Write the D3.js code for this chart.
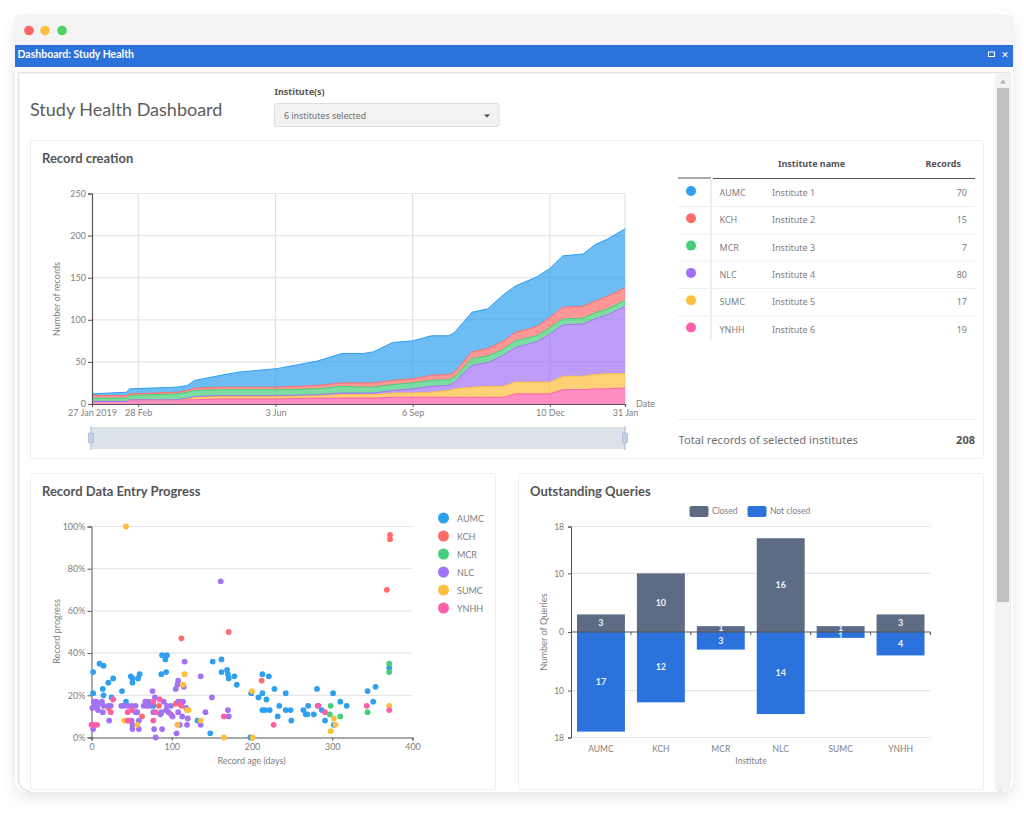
<!DOCTYPE html>
<html>
<head>
<meta charset="utf-8">
<title>Study Health Dashboard</title>
<script src="https://cdn.jsdelivr.net/npm/d3@7"></script>
<style>
    html, body { margin: 0; padding: 0; background: #fff; }
    svg { display: block; font-family: Lato, sans-serif; }
    .axis text { fill: #808080; }
    .axis .domain, .axis line { stroke: #555; }
</style>
</head>
<body>
<div id="chart"></div>
<script>
const institutes = ["AUMC", "KCH", "MCR", "NLC", "SUMC", "YNHH"]
const instituteNames = ["Institute 1", "Institute 2", "Institute 3", "Institute 4", "Institute 5", "Institute 6"]
const instituteRecords = [70, 15, 7, 80, 17, 19]
const colors = ["#2f9ff0", "#ff6b6b", "#44cf78", "#a272f6", "#ffbe3d", "#ff5fa8"]

// days since 27 Jan 2019
const recordDays = [0, 24, 26, 59, 66, 71, 89, 102, 128, 156, 173, 188, 195, 208, 222, 235, 247, 251, 263, 274, 285, 293, 308, 317, 326, 340, 348, 357, 369]
const recordsYNHH = [3, 3, 5, 5, 5, 5, 6, 6, 6, 7, 7, 7, 7, 8, 8, 8, 8, 8, 8, 8, 8, 12, 12, 12, 17, 17, 18, 18, 19]
const recordsSUMC = [0, 0, 0, 0, 1, 3, 3, 3, 3, 3, 4, 4, 4, 5, 5, 6, 8, 10, 12, 13, 13, 14, 14, 14, 16, 16, 17, 18, 17]
const recordsNLC = [0, 0, 0, 0, 1, 1, 1, 1, 1, 1, 2, 2, 2, 3, 5, 7, 6, 8, 26, 28, 37, 41, 48, 57, 61, 62, 66, 70, 80]
const recordsMCR = [4, 4, 5, 7, 7, 7, 7, 7, 7, 7, 8, 7, 7, 7, 7, 7, 7, 6, 8, 8, 7, 8, 7, 8, 7, 7, 7, 7, 7]
const recordsKCH = [3, 3, 2, 2, 2, 3, 3, 3, 3, 4, 4, 5, 5, 5, 5, 6, 6, 6, 8, 9, 10, 10, 11, 12, 14, 14, 14, 15, 15]
const recordsAUMC = [2, 4, 6, 6, 6, 9, 14, 18, 22, 29, 35, 35, 37, 45, 45, 47, 46, 47, 47, 47, 55, 55, 59, 58, 61, 62, 67, 68, 70]

const dateTicks = ["2019-01-27", "2019-02-28", "2019-06-03", "2019-09-06", "2019-12-10", "2020-01-31"]
const dateTickLabels = ["27 Jan 2019", "28 Feb", "3 Jun", "6 Sep", "10 Dec", "31 Jan"]
const recordTicks = [0, 50, 100, 150, 200, 250]

// [age in days, progress in %]
const pointsAUMC = [[2, 31], [2, 21], [10, 35], [15, 34], [14, 23], [15, 20], [21, 26], [27, 28], [25, 19], [38, 22], [43, 17], [49, 29], [51, 26], [51, 28], [58, 28], [60, 30], [77, 15], [87, 30], [88, 39], [93, 31], [94, 39], [92, 37], [132, 8], [148, 2], [151, 36], [162, 37], [162, 31], [169, 32], [170, 30], [171, 28], [178, 29], [181, 25], [199, 21], [198, 0], [208, 19], [213, 21], [218, 18], [213, 13], [216, 13], [222, 13], [213, 30], [221, 29], [228, 23], [242, 21], [234, 15], [232, 10], [242, 13], [248, 13], [249, 8], [264, 13], [267, 11], [270, 15], [269, 11], [277, 11], [281, 23], [282, 15], [287, 13], [291, 8], [301, 21], [310, 17], [318, 15], [302, 6], [344, 22], [351, 17], [354, 24], [371, 33]]
const pointsKCH = [[21, 14], [63, 10], [84, 15], [99, 11], [105, 16], [112, 15], [112, 47], [171, 50], [212, 27], [368, 70], [372, 94], [372, 96]]
const pointsMCR = [[297, 11], [298, 15], [310, 10], [344, 12], [371, 31], [371, 35]]
const pointsNLC = [[1, 14], [3, 17], [5, 15], [6, 17], [7, 15], [8, 13], [10, 16], [13, 17], [15, 15], [14, 12], [21, 15], [24, 15], [2, 4], [22, 8], [37, 15], [40, 15], [45, 15], [50, 15], [55, 15], [55, 12], [57, 12], [50, 8], [51, 6], [51, 4], [59, 8], [59, 4], [67, 17], [71, 17], [65, 15], [69, 15], [73, 15], [77, 12], [76, 22], [79, 19], [78, 4], [80, 0], [88, 4], [86, 11], [87, 12], [90, 17], [94, 15], [93, 13], [96, 12], [99, 15], [101, 10], [106, 2], [105, 23], [107, 25], [108, 27], [108, 17], [110, 17], [114, 17], [108, 12], [110, 6], [113, 10], [115, 24], [116, 36], [118, 14], [119, 6], [120, 9], [136, 29], [136, 6], [142, 12], [150, 19], [161, 74], [170, 13], [171, 10]]
const pointsSUMC = [[43, 100], [116, 30], [114, 25], [41, 8], [57, 6], [107, 6], [119, 13], [121, 13], [136, 8], [165, 0], [200, 22], [201, 0], [302, 9], [304, 6], [298, 3], [371, 15]]
const pointsYNHH = [[0, 6], [3, 6], [7, 6], [27, 18], [24, 12], [45, 12], [45, 8], [46, 8], [50, 13], [77, 8], [77, 17], [85, 18], [80, 12], [110, 16], [165, 10], [227, 6], [283, 15], [291, 12], [343, 15], [371, 13]]
const progressTicks = [0, 20, 40, 60, 80, 100]
const ageTicks = [0, 100, 200, 300, 400]

const queriesClosed = [3, 10, 1, 16, 1, 3]
const queriesNotClosed = [17, 12, 3, 14, 1, 4]
const queryTicks = [-18, -10, 0, 10, 18]

const svg = d3.select("#chart").append("svg")
    .attr("width", 1024)
    .attr("height", 815)
    .attr("viewBox", "0 0 1024 815")

const appendText = (parent, text, x, y, {size = 10, color = "#808080", weight = 400, anchor = "start", family} = {}) => {
    const node = parent.append("text")
        .attr("x", x)
        .attr("y", y)
        .attr("font-size", size)
        .attr("font-weight", weight)
        .attr("fill", color)
        .attr("text-anchor", anchor)
        .text(text)
    family && node.style("font-family", family)
    return node
}

const appendRect = (parent, x, y, width, height, fill, stroke) => parent.append("rect")
    .attr("x", x)
    .attr("y", y)
    .attr("width", width)
    .attr("height", height)
    .attr("fill", fill)
    .attr("stroke", stroke || "none")

const appendRotatedLabel = (parent, text, x, y, size) => {
    appendText(parent, text, 0, 0, {size, anchor: "middle"})
        .attr("transform", `translate(${x},${y}) rotate(-90)`)
}

const appendWindow = () => {
    const defs = svg.append("defs")
    const shadow = defs.append("filter").attr("id", "shadow").attr("x", "-5%").attr("y", "-5%").attr("width", "110%").attr("height", "110%")
    shadow.append("feDropShadow").attr("dx", 0).attr("dy", 5).attr("stdDeviation", 7).attr("flood-color", "#000").attr("flood-opacity", 0.1)

    appendRect(svg, 15, 15, 998, 777, "#fff").attr("rx", 12).attr("filter", "url(#shadow)")
    svg.append("path").attr("d", "M15,45V19q0,-4 4,-4H1009q4,0 4,4V45z").attr("fill", "#f4f4f4")
    appendRect(svg, 15, 45, 998, 22, "#2b72dc")

    // inner frame, open at the bottom where it runs into the window edge
    svg.append("path")
        .attr("d", "M30,791.5Q18.5,790 18.5,778V72.5H1010V778Q1010,790 998,791.5")
        .attr("fill", "none")
        .attr("stroke", "#e4e4e4")
        .attr("stroke-width", 1.5)

    const trafficLights = [[29, "#ff6468"], [45, "#ffbf3f"], [62, "#4cd264"]]
    svg.selectAll("circle.light")
        .data(trafficLights)
        .join("circle")
        .attr("class", "light")
        .attr("cx", d => d[0])
        .attr("cy", 30.5)
        .attr("r", 4.8)
        .attr("fill", d => d[1])

    appendText(svg, "Dashboard: Study Health", 17.5, 57.5, {size: 10.5, color: "#fff", weight: 700})
    appendRect(svg, 988.5, 52, 6, 4.5, "none", "#fff")
    appendText(svg, "✕", 1005, 58, {size: 9, color: "#fff", weight: 700, anchor: "middle", family: "DejaVu Sans"})

    appendRect(svg, 995, 73.5, 15, 717, "#f3f3f3")
    appendRect(svg, 997, 88, 12, 514, "#c1c1c1")
    svg.append("path").attr("d", "M1000,83.5h6l-3,-4z").attr("fill", "#b0b0b0")

    appendText(svg, "Study Health Dashboard", 30, 116, {size: 18, color: "#5c5c5c"})
    appendText(svg, "Institute(s)", 274.5, 95, {size: 9, color: "#555", weight: 700, family: "Noto Sans"})
    appendRect(svg, 274.5, 103.5, 224.5, 23, "#f2f2f2", "#dedede").attr("rx", 2)
    appendText(svg, "6 institutes selected", 284, 119, {size: 8.8, color: "#707070", family: "Noto Sans"})
    svg.append("path").attr("d", "M484,114.5h6l-3,3z").attr("fill", "#444")

    const cards = [[30, 140, 953, 318], [30, 473, 465, 316], [518, 473, 465, 316]]
    cards.forEach(([x, y, w, h]) => appendRect(svg, x + 0.5, y + 0.5, w, h, "#fff", "#efefef").attr("rx", 2))

    appendText(svg, "Record creation", 42, 163, {size: 13, color: "#555", weight: 700})
    appendText(svg, "Record Data Entry Progress", 42, 496, {size: 13, color: "#555", weight: 700})
    appendText(svg, "Outstanding Queries", 530, 496, {size: 13, color: "#555", weight: 700})
}

const appendGrid = (parent, scale, values, x1, x2) => {
    parent.append("g").selectAll("line")
        .data(values)
        .join("line")
        .attr("x1", x1)
        .attr("x2", x2)
        .attr("y1", d => scale(d))
        .attr("y2", d => scale(d))
        .attr("stroke", "#e6e6e6")
        .attr("stroke-width", 1.2)
}

const appendRecordCreation = () => {
    const parseDate = d3.utcParse("%Y-%m-%d")
    const startDate = parseDate("2019-01-27")
    const rows = recordDays.map((day, i) => ({
        date: d3.utcDay.offset(startDate, day),
        YNHH: recordsYNHH[i],
        SUMC: recordsSUMC[i],
        NLC: recordsNLC[i],
        MCR: recordsMCR[i],
        KCH: recordsKCH[i],
        AUMC: recordsAUMC[i]
    }))
    const stacked = d3.stack().keys(["YNHH", "SUMC", "NLC", "MCR", "KCH", "AUMC"])(rows)

    const tickDates = dateTicks.map(parseDate)
    const x = d3.scaleUtc([startDate, parseDate("2020-01-31")], [92, 625])
    const y = d3.scaleLinear([0, 250], [404, 193.5])

    appendGrid(svg, y, recordTicks.slice(1), 92, 625)
    svg.append("g").selectAll("line")
        .data(tickDates.slice(1))
        .join("line")
        .attr("x1", d => x(d))
        .attr("x2", d => x(d))
        .attr("y1", 193.5)
        .attr("y2", 404)
        .attr("stroke", "#e2e2e2")
        .attr("stroke-width", 1.2)

    const area = d3.area()
        .x(d => x(d.data.date))
        .y0(d => y(d[0]))
        .y1(d => y(d[1]))
    const topLine = d3.line()
        .x(d => x(d.data.date))
        .y(d => y(d[1]))

    svg.append("g").selectAll("path.layer")
        .data(stacked)
        .join("path")
        .attr("class", "layer")
        .attr("fill", d => colors[institutes.indexOf(d.key)])
        .attr("fill-opacity", 0.7)
        .attr("d", area)
    svg.append("g").selectAll("path.top")
        .data(stacked)
        .join("path")
        .attr("class", "top")
        .attr("fill", "none")
        .attr("stroke", d => colors[institutes.indexOf(d.key)])
        .attr("stroke-width", 1)
        .attr("d", topLine)

    svg.append("g")
        .attr("class", "axis")
        .attr("transform", "translate(92,0)")
        .call(d3.axisLeft(y).tickValues(recordTicks).tickSize(4).tickPadding(2))
        .call(g => g.selectAll("text").attr("font-size", 9).style("font-family", "Lato"))
        .call(g => g.select(".domain").attr("stroke-width", 1.2))
    svg.append("g")
        .attr("class", "axis")
        .attr("transform", "translate(0,404)")
        .call(d3.axisBottom(x).tickValues(tickDates).tickSize(3).tickPadding(3).tickFormat((d, i) => dateTickLabels[i]))
        .call(g => g.selectAll("text").attr("font-size", 9).style("font-family", "Lato"))
        .call(g => g.select(".domain").attr("stroke-width", 1.2))

    appendRotatedLabel(svg, "Number of records", 60, 299, 9)
    appendText(svg, "Date", 636, 407, {size: 9})

    appendRect(svg, 91, 427, 534, 22, "#dbe2ea")
    const handles = [x(startDate) - 1, x(parseDate("2020-01-31"))]
    svg.append("g").selectAll("g")
        .data(handles)
        .join("g")
        .attr("transform", d => `translate(${d},0)`)
        .call(g => g.append("line").attr("y1", 426).attr("y2", 450).attr("stroke", "#a9bbd6"))
        .call(g => g.append("rect").attr("x", -2.5).attr("y", 433).attr("width", 5).attr("height", 10).attr("rx", 1).attr("fill", "#c3d0e6").attr("stroke", "#a0b4d4").attr("stroke-width", 0.7))
}

const appendInstituteTable = () => {
    const rowY = d3.scalePoint().domain(institutes).range([192.5, 329])
    const rowGap = rowY.step()

    appendText(svg, "Institute name", 778, 166.5, {size: 9, color: "#555", weight: 700, family: "Noto Sans"})
    appendText(svg, "Records", 961, 166.5, {size: 9, color: "#555", weight: 700, anchor: "end", family: "Noto Sans"})

    appendRect(svg, 678, 177.5, 33, 1, "#555")
    appendRect(svg, 713, 178, 262, 1, "#555")
    appendRect(svg, 710, 179, 2, 161, "#eee")

    institutes.slice(0, -1).forEach(code => {
        appendRect(svg, 678, rowY(code) + rowGap / 2, 32, 1, "#eee")
        appendRect(svg, 713, rowY(code) + rowGap / 2, 262, 1, "#eee")
    })

    institutes.forEach((code, i) => {
        svg.append("circle")
            .attr("cx", 691)
            .attr("cy", rowY(code) - 1.5)
            .attr("r", 5)
            .attr("fill", colors[i])
        appendText(svg, code, 719.5, rowY(code) + 3.5, {size: 9, family: "Noto Sans"})
        appendText(svg, instituteNames[i], 772, rowY(code) + 3.5, {size: 9, family: "Noto Sans"})
        appendText(svg, instituteRecords[i], 967, rowY(code) + 3.5, {size: 9, anchor: "end", family: "Noto Sans"})
    })

    appendRect(svg, 678, 419, 297, 1, "#eee")
    appendText(svg, "Total records of selected institutes", 678.5, 444, {size: 11.2, color: "#707070", family: "Noto Sans"})
    appendText(svg, d3.sum(instituteRecords), 975, 444, {size: 11, color: "#555", weight: 700, anchor: "end", family: "Noto Sans"})
}

const appendProgressChart = () => {
    const x = d3.scaleLinear([0, 400], [91.5, 412.5])
    const y = d3.scaleLinear([0, 100], [737.5, 526.5])

    appendGrid(svg, y, progressTicks.slice(1), 91.5, 412.5)

    svg.append("g")
        .attr("class", "axis")
        .attr("transform", "translate(91.5,0)")
        .call(d3.axisLeft(y).tickValues(progressTicks).tickSize(4).tickPadding(2).tickFormat(d => `${d}%`))
        .call(g => g.selectAll("text").attr("font-size", 9).style("font-family", "Lato"))
    svg.append("g")
        .attr("class", "axis")
        .attr("transform", "translate(0,737.5)")
        .call(d3.axisBottom(x).tickValues(ageTicks).tickSize(3).tickPadding(3))
        .call(g => g.selectAll("text").attr("font-size", 9).style("font-family", "Lato"))

    const pointSets = [pointsAUMC, pointsKCH, pointsMCR, pointsNLC, pointsSUMC, pointsYNHH]
    pointSets.forEach((points, i) => {
        svg.append("g").selectAll("circle")
            .data(points)
            .join("circle")
            .attr("cx", d => x(d[0]))
            .attr("cy", d => y(d[1]))
            .attr("r", 2.9)
            .attr("fill", colors[i])
    })

    appendRotatedLabel(svg, "Record progress", 60, 631.5, 9.2)
    appendText(svg, "Record age (days)", 251.5, 763.5, {size: 9, anchor: "middle"})

    const legendY = d3.scalePoint().domain(institutes).range([518, 608])
    institutes.forEach((code, i) => {
        svg.append("circle").attr("cx", 443.5).attr("cy", legendY(code)).attr("r", 5.5).attr("fill", colors[i])
        appendText(svg, code, 457, legendY(code) + 3.5, {size: 9})
    })
}

const appendQueriesChart = () => {
    const closedColor = "#5d6b85"
    const notClosedColor = "#2b72dc"
    const x = d3.scaleBand().domain(institutes).range([571, 930.5]).paddingInner(0.2).paddingOuter(0.1)
    const y = d3.scaleLinear([-18, 18], [737.5, 526.5])

    appendGrid(svg, y, queryTicks.filter(d => d !== 0), 571, 930.5)

    const series = [
        {values: queriesClosed, color: closedColor, sign: 1},
        {values: queriesNotClosed, color: notClosedColor, sign: -1}
    ]
    series.forEach(({values, color, sign}) => {
        const bars = svg.append("g").selectAll("g")
            .data(values)
            .join("g")
        bars.append("rect")
            .attr("x", (d, i) => x(institutes[i]))
            .attr("y", d => sign > 0 ? y(d) : y(0))
            .attr("width", x.bandwidth())
            .attr("height", d => Math.abs(y(d) - y(0)))
            .attr("fill", color)
        // labels of the one-query bars spill past the bar so both stay readable
        bars.append("text")
            .attr("x", (d, i) => x(institutes[i]) + x.bandwidth() / 2)
            .attr("y", d => y(sign * Math.max(d / 2, 0.65)) + 3)
            .attr("text-anchor", "middle")
            .attr("font-size", 9)
            .attr("font-weight", 700)
            .attr("fill", "#eef2f8")
            .text(d => d)
    })

    svg.append("g")
        .attr("class", "axis")
        .attr("transform", "translate(571,0)")
        .call(d3.axisLeft(y).tickValues(queryTicks).tickSize(3).tickPadding(4).tickFormat(d => Math.abs(d)))
        .call(g => g.selectAll("text").attr("font-size", 8.5).style("font-family", "Lato"))

    // x axis sits on the zero line, its labels go below the plot
    const bandTicks = institutes.map(code => x(code) + x.bandwidth() + x.step() * 0.1)
    svg.append("line").attr("x1", 571).attr("x2", 930.5).attr("y1", y(0)).attr("y2", y(0)).attr("stroke", "#555")
    svg.append("g").selectAll("line")
        .data(bandTicks)
        .join("line")
        .attr("x1", d => d)
        .attr("x2", d => d)
        .attr("y1", y(0))
        .attr("y2", y(0) + 3)
        .attr("stroke", "#555")

    institutes.forEach(code => {
        appendText(svg, code, x(code) + x.bandwidth() / 2, 751.5, {size: 8.5, anchor: "middle"})
    })
    appendRotatedLabel(svg, "Number of Queries", 546.5, 632, 9.2)
    appendText(svg, "Institute", 751, 764, {size: 8.5, anchor: "middle"})

    appendRect(svg, 689.5, 506, 19, 11, closedColor).attr("rx", 2)
    appendText(svg, "Closed", 712, 514, {size: 8.5})
    appendRect(svg, 747.5, 506, 19, 11, notClosedColor).attr("rx", 2)
    appendText(svg, "Not closed", 770, 514, {size: 8.5})
}

appendWindow()
appendRecordCreation()
appendInstituteTable()
appendProgressChart()
appendQueriesChart()
</script>
</body>
</html>
